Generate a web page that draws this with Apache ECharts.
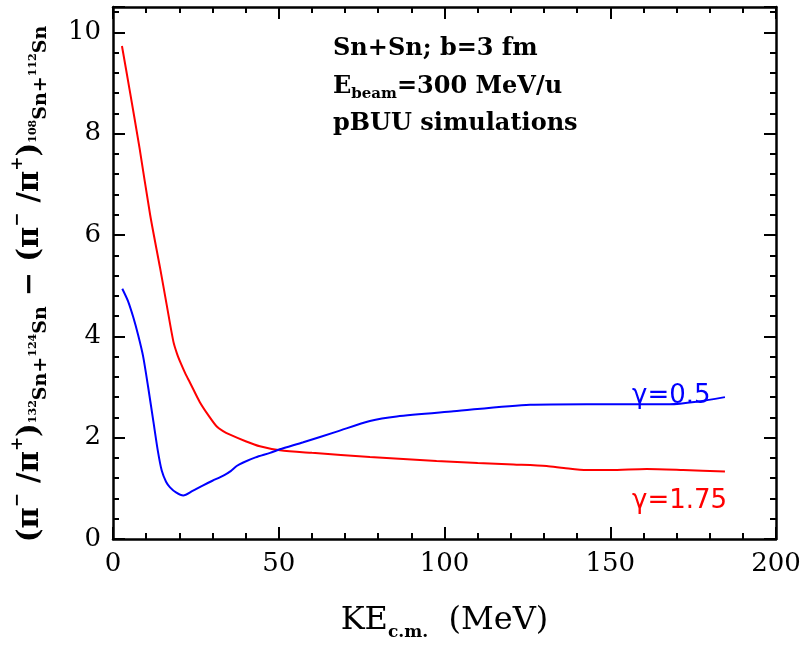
<!DOCTYPE html>
<html>
<head>
<meta charset="utf-8">
<script src="https://cdn.jsdelivr.net/npm/echarts@6/dist/echarts.min.js"></script>
<style>html,body{margin:0;padding:0;background:#fff}#c{width:806px;height:646px}</style>
</head>
<body>
<div id="c"></div>
<script>
// ---- data ----
const xTickLabels = [0, 50, 100, 150, 200];
const yTickLabels = [0, 2, 4, 6, 8, 10];

const redX = [2.7, 5, 8, 11.2, 14.2, 16.2, 18.2, 19.3, 20.5, 21.8, 23.2, 26.2, 29, 31.3, 33.2, 35.3, 40, 44.3, 50.4, 60, 77.5, 97.6, 110, 120.8, 130.8, 136, 142.9, 150, 161, 172, 184.6];
const redY = [9.73, 8.87, 7.72, 6.4, 5.35, 4.62, 3.90, 3.66, 3.46, 3.27, 3.09, 2.70, 2.42, 2.22, 2.13, 2.06, 1.93, 1.83, 1.75, 1.70, 1.62, 1.54, 1.50, 1.47, 1.44, 1.40, 1.36, 1.36, 1.38, 1.36, 1.33];

const blueX = [2.8, 4.5, 6.1, 7.6, 9.1, 10.6, 12.2, 13.5, 14.7, 16, 17.2, 19, 21.2, 24, 27.2, 30, 33.3, 35.5, 37.3, 39.3, 43, 47.4, 50.3, 57.4, 67.5, 77.5, 85.6, 102.7, 125.8, 142.9, 152.9, 168, 176, 184.6];
const blueY = [4.94, 4.70, 4.38, 4.02, 3.60, 3.00, 2.31, 1.75, 1.35, 1.13, 1.02, 0.92, 0.86, 0.95, 1.06, 1.15, 1.25, 1.34, 1.44, 1.51, 1.61, 1.70, 1.77, 1.91, 2.12, 2.33, 2.42, 2.52, 2.65, 2.66, 2.66, 2.66, 2.71, 2.80];

const yMinorStep = 0.4;
const yMajorStep = 2;

const chart = echarts.init(document.getElementById('c'), null, {renderer: 'canvas'});

const serif = 'DejaVu Serif';
const axisColor = '#000';

function frameAxis(extra) {
  return Object.assign({
    type: 'value',
    axisLine: {show: true, onZero: false, lineStyle: {color: axisColor, width: 2.5}},
    axisTick: {show: true, inside: true, length: 12, lineStyle: {color: axisColor, width: 2}},
    splitLine: {show: false},
    axisLabel: {show: false}
  }, extra);
}

const minorTickStyle = {show: true, inside: true, length: 6, lineStyle: {color: axisColor, width: 2}};

const option = {
  animation: false,
  backgroundColor: '#fff',
  grid: {left: 113, right: 30, top: 7, bottom: 96, containLabel: false},
  xAxis: [
    frameAxis({
      position: 'bottom', min: xTickLabels[0], max: xTickLabels[xTickLabels.length - 1], interval: 50,
      minorTick: {show: true, splitNumber: 5, length: 6, lineStyle: {color: axisColor, width: 2}},
      axisLabel: {show: true, fontFamily: serif, fontSize: 26, color: '#000', margin: 12},
      name: '{m|KE}{s|c.m.}{m|  (MeV)}',
      nameLocation: 'middle', nameGap: 62,
      nameTextStyle: {
        rich: {
          m: {fontFamily: serif, fontSize: 32, color: '#000', lineHeight: 40, verticalAlign: 'middle'},
          s: {fontFamily: serif, fontSize: 17, fontWeight: 'bold', color: '#000', verticalAlign: 'bottom', lineHeight: 20}
        }
      }
    }),
    frameAxis({
      position: 'top', min: xTickLabels[0], max: xTickLabels[xTickLabels.length - 1], interval: 50,
      minorTick: {show: true, splitNumber: 5, length: 6, lineStyle: {color: axisColor, width: 2}}
    })
  ],
  yAxis: [
    frameAxis({
      position: 'left', min: 0, max: 10.5, interval: yMajorStep,
      axisLabel: {
        show: true, fontFamily: serif, fontSize: 26, color: '#000', margin: 12,
        formatter: v => (yTickLabels.indexOf(v) >= 0 ? String(v) : '')
      },
      name: '{m|(π}{p|−}{m| /π}{p|+}{m|)}{n|132}{b|Sn+}{n|124}{b|Sn}{m| − (π}{p|−}{m| /π}{p|+}{m|)}{n|108}{b|Sn+}{n|112}{b|Sn}{e| }',
      nameLocation: 'middle', nameRotate: 90, nameGap: 62,
      nameTextStyle: {
        rich: {
          m: {fontFamily: serif, fontSize: 29, fontWeight: 'bold', color: '#000', lineHeight: 42, verticalAlign: 'middle'},
          p: {fontFamily: serif, fontSize: 17, fontWeight: 'bold', color: '#000', verticalAlign: 'top', lineHeight: 18},
          b: {fontFamily: serif, fontSize: 19, fontWeight: 'bold', color: '#000', verticalAlign: 'bottom', lineHeight: 20},
          n: {fontFamily: serif, fontSize: 11, fontWeight: 'bold', color: '#000', verticalAlign: 'bottom', lineHeight: 12, padding: [0, 0, 12, 0]},
          e: {fontSize: 10, width: 22}
        }
      }
    }),
    frameAxis({position: 'right', min: 0, max: 10.5, interval: yMajorStep}),
    frameAxis({position: 'left', min: 0, max: 10.5, interval: yMinorStep,
      axisLine: {show: false, onZero: false}, axisTick: minorTickStyle}),
    frameAxis({position: 'right', min: 0, max: 10.5, interval: yMinorStep,
      axisLine: {show: false, onZero: false}, axisTick: minorTickStyle})
  ],
  series: [
    {
      name: 'γ=1.75', type: 'line', xAxisIndex: 0, yAxisIndex: 0,
      data: redX.map((x, i) => [x, redY[i]]),
      showSymbol: false, smooth: 0.25,
      lineStyle: {color: '#ff0000', width: 2}, itemStyle: {color: '#ff0000'}
    },
    {
      name: 'γ=0.5', type: 'line', xAxisIndex: 0, yAxisIndex: 0,
      data: blueX.map((x, i) => [x, blueY[i]]),
      showSymbol: false, smooth: 0.25,
      lineStyle: {color: '#0000ff', width: 2}, itemStyle: {color: '#0000ff'}
    }
  ],
  graphic: [
    {type: 'text', left: 333, top: 37, style: {text: 'Sn+Sn; b=3 fm', font: 'bold 24px "DejaVu Serif"', fill: '#000'}},
    {type: 'text', left: 333, top: 75, style: {
      text: '{b|E}{s|beam}{b|=300 MeV/u}',
      rich: {
        b: {font: 'bold 24px "DejaVu Serif"', fill: '#000', lineHeight: 30, verticalAlign: 'middle'},
        s: {font: 'bold 15px "DejaVu Serif"', fill: '#000', verticalAlign: 'bottom', lineHeight: 18}
      }
    }},
    {type: 'text', left: 333, top: 112, style: {text: 'pBUU simulations', font: 'bold 24px "DejaVu Serif"', fill: '#000'}},
    {type: 'text', left: 632, top: 383, style: {text: 'γ=0.5', font: '26px "DejaVu Sans"', fill: '#0000ff'}},
    {type: 'text', left: 632, top: 488, style: {text: 'γ=1.75', font: '26px "DejaVu Sans"', fill: '#ff0000'}}
  ]
};
chart.setOption(option);
</script>
</body>
</html>
